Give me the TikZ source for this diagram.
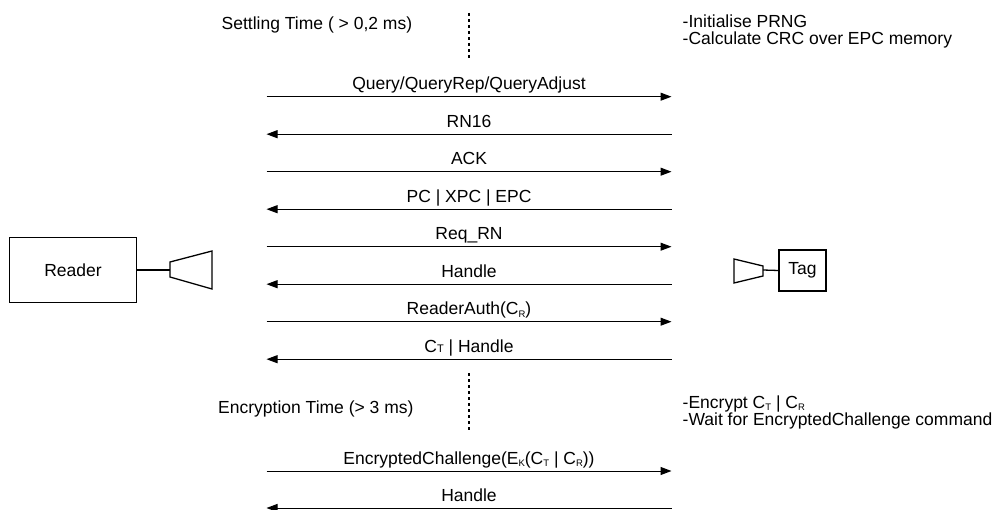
\documentclass[tikz,border=0pt]{standalone}
\usepackage{fontspec}
\setmainfont{Liberation Sans}
\usetikzlibrary{arrows.meta}

% lowered small letter for C_R, C_T, E_K
\newcommand{\lsub}[1]{\raisebox{-2.5pt}{\fontsize{9.5}{9.5}\selectfont #1}}

\tikzset{
  msg/.style={line width=1pt,-{Triangle[length=11pt,width=8pt]}},
  lbl/.style={anchor=base,inner sep=0pt},
  note/.style={anchor=base west,inner sep=0pt},
  wait/.style={line width=1.3pt,dash pattern=on 3pt off 3pt},
  box/.style={draw,line width=1.3pt,minimum width=127pt,minimum height=65pt},
}

\begin{document}
\begin{tikzpicture}[x=1pt,y=-1pt,font=\fontsize{17.5}{17.5}\selectfont]
\useasboundingbox (0,0) rectangle (1003,510);

% reader and tag with their antennas
\node[box] (reader) at (73,270) {Reader};
\node[box,minimum width=47pt,minimum height=41pt] (tag) at (802.5,270.5) {Tag};
\coordinate (rant) at (170,270);
\coordinate (tant) at (763,270);
\draw[line width=1.3pt] (reader.east) -- (rant);
\draw[line width=1.3pt] (tant) -- (tag.west);
\draw[line width=1.3pt] (rant) -- (170,262) -- (212,251) -- (212,289) -- (170,277) -- cycle;
\draw[line width=1.3pt] (tant) -- (763,266) -- (734,259) -- (734,283) -- (763,276) -- cycle;

% waiting periods
\coordinate (s1) at (469,13);
\coordinate (s2) at (469,59);
\draw[wait] (s1) -- (s2);
\node[note] (settle) at (221.5,30) {Settling Time ( > 0,2 ms)};
\node[note] (prng) at (682.5,28) {-Initialise PRNG};
\node[note] (crc) at (682.5,45) {-Calculate CRC over EPC memory};

\coordinate (e1) at (469,373);
\coordinate (e2) at (469,431);
\draw[wait] (e1) -- (e2);
\node[note] (encr) at (218,413) {Encryption Time (> 3 ms)};
\node[note] (enc) at (682.5,408.3) {-Encrypt C\lsub{T} | C\lsub{R}};
\node[note] (wfor) at (682.5,425) {-Wait for EncryptedChallenge command};

% message rows: end points
\foreach \i/\y in {1/96.7,2/134.2,3/171.7,4/209.2,5/246.7,6/284.2,7/321.7,8/359.2,9/471,10/508}{
  \coordinate (L\i) at (266.5,\y);
  \coordinate (R\i) at (671.5,\y);
}

% reader -> tag
\foreach \i/\t in {1/{Query/QueryRep/QueryAdjust},3/ACK,5/Req\_RN}
  \draw[msg] (L\i) -- (R\i) node[lbl,midway,yshift=7pt] {\t};
\draw[msg] (L7) -- (R7) node[lbl,midway,yshift=7pt] {ReaderAuth(C\lsub{R})};
\draw[msg] (L9) -- (R9) node[lbl,midway,yshift=7pt] {EncryptedChallenge(E\lsub{K}(C\lsub{T} | C\lsub{R}))};

% tag -> reader
\foreach \i/\t in {2/RN16,4/PC | XPC | EPC,6/Handle,10/Handle}
  \draw[msg] (R\i) -- (L\i) node[lbl,midway,yshift=7pt] {\t};
\draw[msg] (R8) -- (L8) node[lbl,midway,yshift=7pt] {C{\fontsize{11}{11}\selectfont T} | Handle};
\end{tikzpicture}
\end{document}
